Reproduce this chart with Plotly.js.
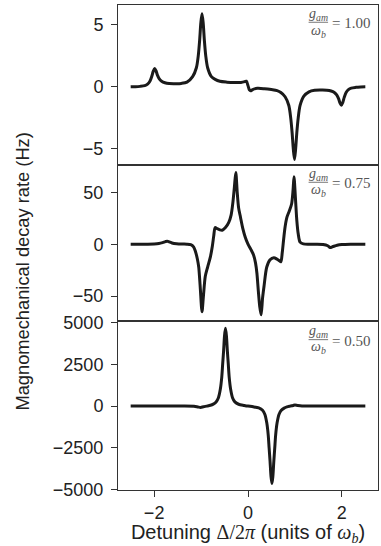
<!DOCTYPE html>
<html>
<head>
<meta charset="utf-8">
<script src="https://cdn.plot.ly/plotly-3.0.1.min.js"></script>
<style>html,body{margin:0;padding:0;background:#fff;}#chart{width:381px;height:546px;}</style>
</head>
<body>
<div id="chart"></div>
<script>
// Panel 1: g_am/omega_b = 1.00
const x1 = [-2.5, -2.4, -2.3, -2.2, -2.14, -2.09, -2.05, -2.02, -1.99, -1.96, -1.93, -1.89, -1.84, -1.77, -1.68, -1.55, -1.42, -1.3, -1.18, -1.1, -1.06, -1.03, -1.005, -0.98, -0.955, -0.93, -0.9, -0.86, -0.78, -0.7, -0.6, -0.45, -0.3, -0.15, -0.07, -0.035, 0, 0.03, 0.055, 0.1, 0.2, 0.35, 0.5, 0.62, 0.7, 0.79, 0.87, 0.91, 0.94, 0.965, 0.99, 1.015, 1.04, 1.07, 1.11, 1.19, 1.3, 1.42, 1.55, 1.68, 1.77, 1.84, 1.89, 1.93, 1.96, 1.99, 2.02, 2.05, 2.09, 2.14, 2.2, 2.3, 2.4, 2.5];
const y1 = [0, 0.01, 0.04, 0.1, 0.22, 0.45, 0.85, 1.25, 1.48, 1.3, 0.95, 0.65, 0.45, 0.33, 0.27, 0.26, 0.28, 0.38, 0.82, 1.54, 2.5, 3.77, 5.16, 5.9, 5.16, 3.77, 2.5, 1.54, 0.82, 0.6, 0.45, 0.38, 0.35, 0.36, 0.42, 0.46, 0.1, -0.25, -0.32, -0.22, -0.12, -0.15, -0.22, -0.3, -0.45, -0.8, -1.5, -2.5, -3.7, -5.0, -5.85, -5.0, -3.7, -2.5, -1.5, -0.75, -0.4, -0.28, -0.26, -0.27, -0.33, -0.45, -0.65, -0.95, -1.3, -1.48, -1.25, -0.85, -0.45, -0.22, -0.1, -0.04, -0.01, 0];

// Panel 2: g_am/omega_b = 0.75
const x2 = [-2.5, -2.2, -2.0, -1.9, -1.82, -1.76, -1.72, -1.68, -1.62, -1.52, -1.4, -1.3, -1.22, -1.16, -1.12, -1.08, -1.05, -1.02, -0.98, -0.95, -0.91, -0.86, -0.8, -0.76, -0.73, -0.7, -0.66, -0.6, -0.55, -0.48, -0.41, -0.36, -0.32, -0.29, -0.26, -0.23, -0.2, -0.16, -0.11, -0.06, 0, 0.06, 0.12, 0.16, 0.19, 0.22, 0.25, 0.28, 0.31, 0.34, 0.4, 0.47, 0.55, 0.62, 0.67, 0.7, 0.73, 0.76, 0.79, 0.83, 0.88, 0.93, 0.96, 0.98, 1.01, 1.04, 1.07, 1.11, 1.18, 1.3, 1.45, 1.6, 1.7, 1.75, 1.8, 1.9, 2.0, 2.2, 2.5];
const y2 = [0, 0, 0.2, 0.6, 1.5, 2.5, 2.9, 2.3, 1.2, 0.4, 0.1, 0, -0.5, -2.6, -7, -14, -22, -40, -65, -50, -31, -22, -12, -2, 8, 16, 15, 13.8, 13.5, 16, 21, 28, 41, 55, 69, 50, 35, 26, 15, 7, 0, -5, -10.6, -18, -28, -45, -60, -68, -52, -41, -22, -15, -13, -14.5, -16, -17, -8, 5, 16.6, 26, 32, 39, 52, 65, 45, 23, 10, 2, 0.3, 0, 0, -0.3, -1.5, -3.2, -2.5, -1, -0.3, 0, 0];

// Panel 3: g_am/omega_b = 0.50
const x3 = [-2.5, -1.5, -1.15, -1.07, -1.01, -0.95, -0.88, -0.8, -0.74, -0.68, -0.63, -0.59, -0.56, -0.54, -0.52, -0.5, -0.48, -0.46, -0.44, -0.42, -0.4, -0.37, -0.33, -0.28, -0.2, -0.08, 0, 0.11, 0.23, 0.31, 0.36, 0.4, 0.43, 0.45, 0.47, 0.49, 0.51, 0.53, 0.55, 0.57, 0.59, 0.62, 0.66, 0.71, 0.77, 0.83, 0.9, 0.96, 1.0, 1.06, 1.15, 1.5, 2.5];
const y3 = [0, 0, -10, -50, -80, -40, 0, 50, 120, 250, 500, 1000, 1700, 2500, 3300, 4200, 4650, 4200, 3300, 2500, 1700, 1000, 500, 250, 110, 40, 0, -40, -110, -250, -500, -1000, -1700, -2500, -3300, -4200, -4620, -4200, -3300, -2500, -1700, -1000, -500, -250, -120, -50, 0, 40, 70, 40, 10, 0, 0];

const ratioLabels = ['= 1.00', '= 0.75', '= 0.50'];
const xTicks = [-2, 0, 2];
const yTicks1 = [-5, 0, 5];
const yTicks2 = [-50, 0, 50];
const yTicks3 = [-5000, -2500, 0, 2500, 5000];

const lineStyle = {color: '#1a1a1a', width: 3, shape: 'spline', smoothing: 0.8};
const traces = [
  {x: x1, y: y1, xaxis: 'x3', yaxis: 'y', type: 'scatter', mode: 'lines', line: lineStyle, hoverinfo: 'skip'},
  {x: x2, y: y2, xaxis: 'x2', yaxis: 'y2', type: 'scatter', mode: 'lines', line: lineStyle, hoverinfo: 'skip'},
  {x: x3, y: y3, xaxis: 'x', yaxis: 'y3', type: 'scatter', mode: 'lines', line: lineStyle, hoverinfo: 'skip'}
];

const tickFont = {family: 'Liberation Sans, Arial, sans-serif', size: 18, color: '#222'};
const xr = [-2.77, 2.77];
function yax(domain, range, ticks) {
  return {domain: domain, range: range, tickvals: ticks, ticks: 'outside', ticklen: 6, tickwidth: 1, tickcolor: '#333',
    showline: true, mirror: true, linecolor: '#333', linewidth: 1, showgrid: false, zeroline: false,
    tickfont: tickFont, ticklabelstandoff: 4};
}
function xax(anchor, showLabels) {
  return {range: xr, anchor: anchor, tickvals: xTicks, showticklabels: showLabels, ticks: showLabels ? 'outside' : '',
    ticklen: 6, tickwidth: 1, tickcolor: '#333', showline: true, mirror: true, linecolor: '#333', linewidth: 1,
    showgrid: false, zeroline: false, tickfont: tickFont};
}

const serif = 'Liberation Serif, DejaVu Serif, serif';
const annoColor = '#555';
const annotations = [];
const shapes = [];
const panels = [
  {y: 'y', bar: 0.892, num: 0.94, den: 0.835, eq: 0.888},
  {y: 'y2', bar: 0.889, num: 0.94, den: 0.835, eq: 0.883},
  {y: 'y3', bar: 0.888, num: 0.935, den: 0.84, eq: 0.882}
];
const xdom = ['x3', 'x2', 'x'];
panels.forEach((p, i) => {
  const xr_ = xdom[i] + ' domain', yr_ = p.y + ' domain';
  annotations.push({xref: xr_, yref: yr_, x: 0.77, y: p.num, text: '<i>g</i><sub><i>am</i></sub>', showarrow: false,
    xanchor: 'center', yanchor: 'middle', font: {family: serif, size: 14, color: annoColor}});
  annotations.push({xref: xr_, yref: yr_, x: 0.77, y: p.den, text: '<i>ω</i><sub><i>b</i></sub>', showarrow: false,
    xanchor: 'center', yanchor: 'middle', font: {family: serif, size: 14, color: annoColor}});
  annotations.push({xref: xr_, yref: yr_, x: 0.815, y: p.eq, text: ratioLabels[i], showarrow: false,
    xanchor: 'left', yanchor: 'middle', font: {family: serif, size: 15, color: annoColor}});
  shapes.push({type: 'line', xref: xr_, yref: yr_, x0: 0.733, x1: 0.808, y0: p.bar, y1: p.bar,
    line: {color: annoColor, width: 0.8}});
});
annotations.push({xref: 'paper', yref: 'paper', x: -0.369, y: 0.4505, text: 'Magnomechanical decay rate (Hz)',
  textangle: -90, showarrow: false, xanchor: 'center', yanchor: 'middle',
  font: {family: 'Liberation Sans, Arial, sans-serif', size: 18.3, color: '#222'}});

const layout = {
  width: 381, height: 546,
  margin: {l: 118, r: 3, t: 5, b: 56},
  paper_bgcolor: '#fff', plot_bgcolor: '#fff',
  showlegend: false,
  xaxis: Object.assign(xax('y3', true), {title: {text: 'Detuning <span style="font-family:Liberation Serif">Δ/2<i>π</i></span> (units of <span style="font-family:Liberation Serif"><i>ω</i><sub><i>b</i></sub></span>)',
    font: {family: 'Liberation Sans, Arial, sans-serif', size: 20, color: '#222'}, standoff: 7}}),
  xaxis2: xax('y2', false),
  xaxis3: xax('y', false),
  yaxis: yax([0.6701, 1], [-6.3, 6.6], yTicks1),
  yaxis2: yax([0.3491, 0.6701], [-73.7, 76.3], yTicks2),
  yaxis3: yax([0, 0.3491], [-5010, 5100], yTicks3),
  annotations: annotations,
  shapes: shapes
};
Plotly.newPlot('chart', traces, layout, {staticPlot: true, displayModeBar: false});
</script>
</body>
</html>
